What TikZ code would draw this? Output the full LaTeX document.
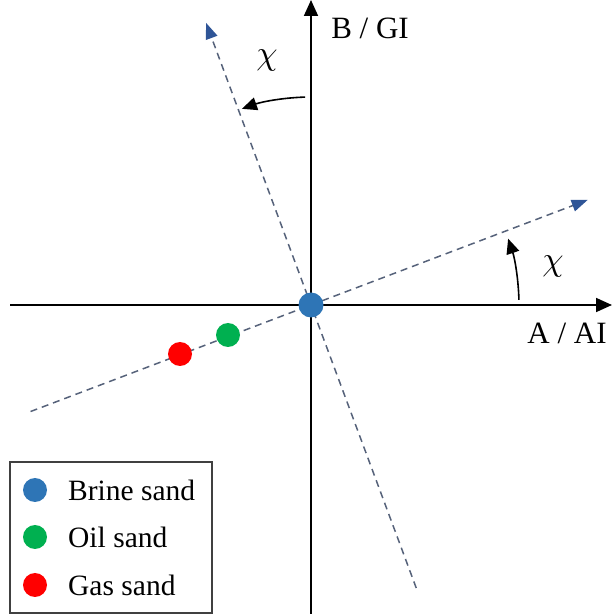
\documentclass[tikz,border=0pt]{standalone}
\usepackage{fontspec}
\setmainfont{Liberation Serif}
\usepackage{xcolor}
\usetikzlibrary{arrows.meta, calc}

\definecolor{brineblue}{HTML}{2E75B6}
\definecolor{oilgreen}{HTML}{00B050}
\definecolor{gasred}{HTML}{FF0000}
\definecolor{dashgray}{HTML}{56627A}
\definecolor{tipblue}{HTML}{2F5597}

\newcommand{\bigchi}{\scalebox{3.4}{$\chi$}}

\tikzset{
  axisline/.style={line width=1.8pt, -{Triangle[length=16pt, width=14pt]}},
  rotline/.style={dashgray, line width=1.5pt, dash pattern=on 7pt off 5pt,
    -{Triangle[length=16pt, width=12pt, color=tipblue]}},
  anglearc/.style={line width=1.6pt, -{Triangle[length=15pt, width=13pt]}},
  dot/.style={circle, inner sep=0pt, minimum size=24pt},
  lbl/.style={font=\fontsize{31}{36}\selectfont},
  leg/.style={font=\fontsize{29.5}{34}\selectfont, anchor=west, inner sep=0pt}
}

\begin{document}
\begin{tikzpicture}[x=1pt, y=1pt]
  \useasboundingbox (0,0) rectangle (612,614);

  % Origin and axes
  \coordinate (O) at (311,309);
  \coordinate (xl) at (10,309);
  \coordinate (xr) at (612,309);
  \coordinate (yb) at (311,0);
  \coordinate (yt) at (311,614);
  \draw[axisline] (xl) -- (xr);
  \draw[axisline] (yb) -- (yt);
  \node[lbl] (alabel) at (567,281) {A / AI};
  \node[lbl] (blabel) at (370,586) {B / GI};

  % Rotated axes
  \coordinate (r1a) at ($(O)+(200.8:300)$);
  \coordinate (r1b) at ($(O)+(20.8:296)$);
  \coordinate (r2a) at ($(O)+(-69.6:302)$);
  \coordinate (r2b) at ($(O)+(110.4:301)$);
  \draw[rotline] (r1a) -- (r1b);
  \draw[rotline] (r2a) -- (r2b);

  % Rotation angle
  \draw[anglearc] ($(O)+(1.4:208)$) arc[start angle=1.4, end angle=18.6, radius=208];
  \draw[anglearc] ($(O)+(91.6:208)$) arc[start angle=91.6, end angle=109.4, radius=208];
  \node (chir) at (553,348) {\bigchi};
  \node (chit) at (267,554) {\bigchi};

  % Sand points
  \node[dot, fill=gasred] (gas) at (180,260) {};
  \node[dot, fill=oilgreen] (oil) at (228,279) {};
  \node[dot, fill=brineblue, minimum size=25pt] (brine) at (O) {};

  % Legend
  \draw[black!75, line width=1.4pt] (10,1) rectangle (212,152);
  \node[dot, fill=brineblue] (lbrine) at (35,124) {};
  \node[dot, fill=oilgreen] (loil) at (35,77) {};
  \node[dot, fill=gasred] (lgas) at (35,29) {};
  \node[leg] at (68,124) {Brine sand};
  \node[leg] at (68,77) {Oil sand};
  \node[leg] at (68,29) {Gas sand};
\end{tikzpicture}
\end{document}
